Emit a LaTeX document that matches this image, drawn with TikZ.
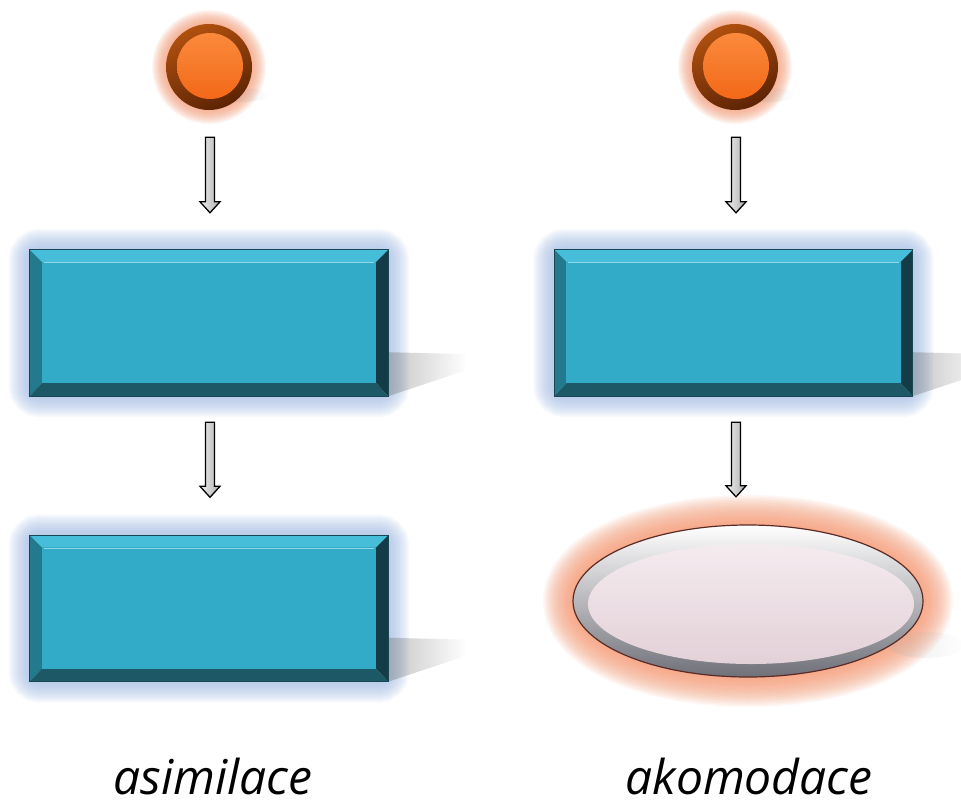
\documentclass[tikz,border=0pt]{standalone}
\usepackage{fontspec}
\newfontfamily\labelfont{Open Sans}
\usetikzlibrary{calc,shapes.geometric,fadings}

\definecolor{glowblue}{HTML}{A2BCE6}
\definecolor{gloworange}{HTML}{F79A74}
\definecolor{boxface}{HTML}{32ABC8}
\definecolor{bevtop}{HTML}{46BED9}
\definecolor{bevleft}{HTML}{237A8D}
\definecolor{bevright}{HTML}{143C46}
\definecolor{bevbottom}{HTML}{1D5866}
\definecolor{boxedge}{HTML}{184753}
\definecolor{ringlight}{HTML}{B0500F}
\definecolor{ringdark}{HTML}{5C2305}
\definecolor{ballhi}{HTML}{FB8A3C}
\definecolor{balllo}{HTML}{F26818}
\definecolor{rimgray}{HTML}{707079}
\definecolor{pilltop}{HTML}{F4EBEF}
\definecolor{pillbot}{HTML}{E3D1D8}
\definecolor{pilledge}{HTML}{5A2B25}

\tikzset{
  boxnode/.style={rectangle, minimum width=358, minimum height=146, inner sep=0pt},
  ballnode/.style={circle, minimum size=86, inner sep=0pt},
  pillnode/.style={ellipse, minimum width=350, minimum height=152, inner sep=0pt},
  arrowbody/.style={left color=black!6, right color=black!32, draw=black, line width=1.3pt, line join=miter},
  caption/.style={anchor=base, inner sep=0pt, font=\labelfont\itshape\fontsize{48}{56}\selectfont},
  softshadow/.style={fill=black!55, opacity=0.4, path fading=east},
}

% bevelled box with blue glow and a cast shadow
\newcommand\bevelbox[1]{%
  \foreach \w in {3,6,...,42}
    \draw[glowblue, line width=\w pt, opacity=0.08, rounded corners=10pt]
      (#1.north west) rectangle (#1.south east);
  \fill[softshadow] ($(#1.south east)+(0,-44)$) -- ($(#1.south east)+(78,-42)$)
     -- ($(#1.south east)+(78,-26)$) -- (#1.south east) -- cycle;
  \fill[bevtop] (#1.north west) -- (#1.north east) -- ($(#1.north east)+(-12,12)$) -- ($(#1.north west)+(12,12)$) -- cycle;
  \fill[bevleft] (#1.north west) -- ($(#1.north west)+(12,12)$) -- ($(#1.south west)+(12,-13)$) -- (#1.south west) -- cycle;
  \fill[bevright] (#1.north east) -- ($(#1.north east)+(-12,12)$) -- ($(#1.south east)+(-12,-13)$) -- (#1.south east) -- cycle;
  \fill[bevbottom] (#1.south west) -- ($(#1.south west)+(12,-13)$) -- ($(#1.south east)+(-12,-13)$) -- (#1.south east) -- cycle;
  \fill[boxface] ($(#1.north west)+(12,12)$) rectangle ($(#1.south east)+(-12,-13)$);
  \draw[bevtop!60!white, line width=1.2pt] ($(#1.north west)+(14,13)$) -- ($(#1.north east)+(-14,13)$);
  \draw[boxedge, line width=1pt] (#1.north west) rectangle (#1.south east);
}

% orange ball with glow
\newcommand\ball[1]{%
  \foreach \w in {2,4,...,28}
    \draw[gloworange, line width=\w pt, opacity=0.08] (#1.center) circle[radius=43];
  \fill[black!40, opacity=0.3, path fading=east] ($(#1.center)+(32,28)$) ellipse[x radius=28, y radius=7];
  \shade[top color=ringlight, bottom color=ringdark, shading angle=25] (#1.center) circle[radius=43];
  \shade[top color=ballhi, bottom color=balllo] ($(#1.center)+(1,-1)$) circle[radius=33];
}

% grey block arrow from #1 down to the tip #2
\newcommand\blockarrow[2]{%
  \shade[arrowbody] let \p1=(#1), \p2=(#2) in
    (\x1-4.5pt,\y1) -- (\x1+4.5pt,\y1) -- (\x1+4.5pt,\y2+11pt) -- (\x1+10pt,\y2+11pt)
    -- (\x1,\y2) -- (\x1-10pt,\y2+11pt) -- (\x1-4.5pt,\y2+11pt) -- cycle;
}

\begin{document}
\begin{tikzpicture}[x=1pt, y=-1pt]
\useasboundingbox (0,0) rectangle (961,809);
\fill[white] (0,0) rectangle (961,809);

% nodes
\node[ballnode] (cl) at (209,67) {};
\node[ballnode] (cr) at (735,67) {};
\node[boxnode] (bl1) at (209,323) {};
\node[boxnode] (bl2) at (209,608.5) {};
\node[boxnode] (br1) at (733.5,323) {};
\node[pillnode] (pr) at (748,601) {};

% left column
\ball{cl}
\bevelbox{bl1}
\bevelbox{bl2}
\coordinate (al1s) at ($(cl.south)+(1,27)$);
\coordinate (al1e) at ($(bl1.north)+(1,-37)$);
\coordinate (al2s) at ($(bl1.south)+(1,26)$);
\coordinate (al2e) at ($(bl2.north)+(1,-38)$);
\blockarrow{al1s}{al1e}
\blockarrow{al2s}{al2e}

% right column
\ball{cr}
\bevelbox{br1}
\coordinate (ar1s) at ($(cr.south)+(1,27)$);
\coordinate (ar1e) at ($(br1.north)+(2.5,-37)$);
\coordinate (ar2s) at ($(br1.south)+(2.5,26)$);
\coordinate (ar2e) at ($(pr.north)+(-12,-28)$);
\blockarrow{ar1s}{ar1e}
\blockarrow{ar2s}{ar2e}

% pill-shaped ellipse with orange glow
\foreach \w in {3,6,...,60}
  \draw[gloworange, line width=\w pt, opacity=0.075] (pr.center) ellipse[x radius=175, y radius=76];
\fill[black!30, opacity=0.25, path fading=east] ($(pr.center)+(178,44)$) ellipse[x radius=38, y radius=13];
\shade[top color=white, bottom color=rimgray] (pr.center) ellipse[x radius=175, y radius=76];
\shade[top color=pilltop, bottom color=pillbot] ($(pr.center)+(3,3)$) ellipse[x radius=163, y radius=60];
\draw[pilledge, line width=1.2pt] (pr.center) ellipse[x radius=175, y radius=76];

% captions
\node[caption] (tl) at (213,794) {asimilace};
\node[caption] (tr) at (749,794) {akomodace};
\end{tikzpicture}
\end{document}
